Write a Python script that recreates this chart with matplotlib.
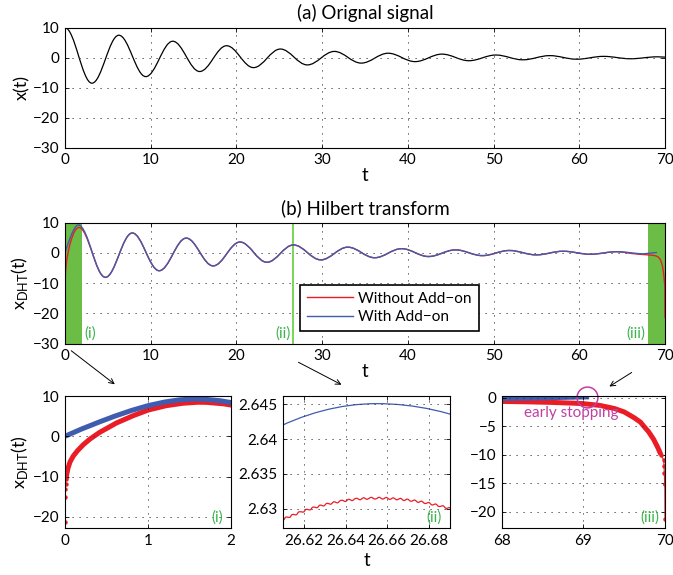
import numpy as np
import matplotlib
matplotlib.use('Agg')
from matplotlib import pyplot as plt
from matplotlib.path import Path
from matplotlib.patches import PathPatch, FancyArrowPatch
from matplotlib.lines import Line2D

plt.rcParams['font.family'] = ['Lato', 'DejaVu Sans']
plt.rc('axes', linewidth=0.8)

# ---- data ----
# (a) original signal: extrema (t, value)
x_ext_t = [0, 3.14, 6.28, 9.42, 12.57, 15.71, 18.85, 21.99, 25.13, 28.27, 31.42, 34.56,
           37.70, 40.84, 43.98, 47.12, 50.27, 53.41, 56.55, 59.69, 62.83, 65.97, 69.12, 70]
x_ext_v = [10, -8.5, 7.5, -6.3, 5.5, -4.6, 4.0, -3.3, 2.9, -2.4, 2.1, -1.8,
           1.5, -1.3, 1.2, -1.0, 0.9, -0.7, 0.7, -0.5, 0.45, -0.35, 0.3, 0.2]

# (b) Hilbert transform, with add-on (blue)
blue_head_t = [0, 0.2, 0.42, 0.6, 0.8, 1.0, 1.2, 1.38]
blue_head_v = [0, 1.8, 3.6, 5.0, 6.4, 7.6, 8.5, 9.05]
blue_ext_t = [1.55, 4.71, 7.85, 10.99, 14.14, 17.28, 20.42, 23.56, 26.655, 29.85, 32.99,
              36.13, 39.27, 42.41, 45.55, 48.69, 51.84, 54.98, 58.12, 61.26, 64.40, 67.54]
blue_ext_v = [9.25, -8.1, 6.6, -5.9, 4.9, -4.3, 3.6, -3.1, 2.6451, -2.3, 1.9,
              -1.6, 1.4, -1.2, 1.0, -0.9, 0.8, -0.65, 0.55, -0.45, 0.4, -0.3]
blue_tail_t = [68.0, 68.5, 69.07]
blue_tail_v = [-0.15, -0.02, 0.15]

# (b) Hilbert transform, without add-on (red)
red_edge0_t = [0, 0.002, 0.004, 0.006, 0.012]
red_edge0_v = [-21.4, -15.2, -13.2, -11.8, -10.6]
red_head_t = [0.012, 0.02, 0.035, 0.06, 0.1, 0.15, 0.22, 0.3, 0.42, 0.62, 0.82, 1.0, 1.22, 1.42]
red_head_v = [-10.6, -9.5, -8.0, -6.4, -4.9, -3.6, -2.1, -0.7, 1.0, 3.3, 5.1, 6.5, 7.6, 8.2]
red_ext_t = [1.60, 4.71, 7.85, 10.99, 14.14, 17.28, 20.42, 23.56, 26.655, 29.85, 32.99,
             36.13, 39.27, 42.41, 45.55, 48.69, 51.84, 54.98, 58.12, 61.26, 64.40]
red_ext_v = [8.45, -8.1, 6.6, -5.9, 4.9, -4.3, 3.6, -3.1, 2.6315, -2.3, 1.9,
             -1.6, 1.4, -1.2, 1.0, -0.9, 0.8, -0.65, 0.55, -0.45, 0.4]
red_tail_t = [65.2, 66.0, 67.0, 68.0, 68.3, 68.6, 68.9, 69.0, 69.2, 69.38, 69.5, 69.62,
              69.7, 69.74, 69.8, 69.86, 69.91, 69.95]
red_tail_v = [0.2, -0.15, -0.45, -0.65, -0.72, -0.82, -0.97, -1.05, -1.35, -1.9, -2.5, -3.5,
              -4.3, -5.0, -6.0, -7.3, -8.7, -10.0]
red_edge1_t = [69.95, 69.984, 69.988, 69.992, 69.996, 69.998, 70.0]
red_edge1_v = [-10.0, -11.0, -12.0, -13.2, -15.2, -15.2, -21.4]

zoom_spans = [(0, 2), (68, 70)]
zoom_line = 26.655

RED = '#ea1d27'
BLUE = '#3f5cae'
GREEN = '#6cbd45'
LGREEN = '#3cb44a'
MAGENTA = '#c03fa4'


def wave(ext_t, ext_v, head_t=(), head_v=(), tail_t=(), tail_v=()):
    # line through read points, half-cosine-like Bezier between extrema
    verts, codes = [], []
    for t, v in zip(head_t, head_v):
        verts.append((t, v)); codes.append(Path.LINETO)
    verts.append((ext_t[0], ext_v[0])); codes.append(Path.LINETO)
    for t0, v0, t1, v1 in zip(ext_t[:-1], ext_v[:-1], ext_t[1:], ext_v[1:]):
        h = 0.3634 * (t1 - t0)
        verts += [(t0 + h, v0), (t1 - h, v1), (t1, v1)]
        codes += [Path.CURVE4] * 3
    for t, v in zip(tail_t, tail_v):
        verts.append((t, v)); codes.append(Path.LINETO)
    codes[0] = Path.MOVETO
    return Path(verts, codes)


def red_path():
    return wave(red_ext_t, red_ext_v, red_head_t, red_head_v, red_tail_t, red_tail_v)


def blue_path():
    return wave(blue_ext_t, blue_ext_v, blue_head_t, blue_head_v, blue_tail_t, blue_tail_v)


def style(ax):
    ax.tick_params(direction='in', top=True, right=True, length=3, width=0.6,
                   labelsize=11, pad=4)
    ax.grid(True, color='#333333', lw=0.7, ls=(0, (1.2, 6)))


W, H = 673, 575
fig = plt.figure(figsize=(W / 100, H / 100), dpi=100)

# ---- (a) ----
ax = fig.add_axes([0.0966, 0.7431, 0.8915, 0.2087])
ax.add_patch(PathPatch(wave(x_ext_t, x_ext_v), fill=False, ec='k', lw=0.9))
ax.set_xlim(0, 70)
ax.set_ylim(-30, 10)
ax.set_xticks(range(0, 71, 10))
ax.set_yticks(range(-30, 11, 10))
style(ax)
ax.set_title('(a) Orignal signal', fontsize=13.5, pad=6)
ax.set_xlabel('t', fontsize=13.5, labelpad=0)
ax.set_ylabel('x(t)', fontsize=13, labelpad=2)

# ---- (b) ----
ax = fig.add_axes([0.0966, 0.4026, 0.8915, 0.2101])
for a, b in zoom_spans:
    ax.axvspan(a, b, color=GREEN, lw=0, zorder=1.6)
ax.axvline(zoom_line, color='#5fcf3a', lw=1.2, zorder=1.6)
ax.add_patch(PathPatch(red_path(), fill=False, ec=RED, lw=1.0, zorder=2))
ax.plot(red_edge0_t, red_edge0_v, color=RED, lw=1.0, zorder=2)
ax.plot(red_edge1_t, red_edge1_v, color=RED, lw=1.0, zorder=2)
ax.add_patch(PathPatch(blue_path(), fill=False, ec=BLUE, lw=1.0, zorder=2.1))
ax.set_xlim(0, 70)
ax.set_ylim(-30, 10)
ax.set_xticks(range(0, 71, 10))
ax.set_yticks(range(-30, 11, 10))
style(ax)
ax.set_title('(b) Hilbert transform', fontsize=13.5, pad=6)
ax.set_xlabel('t', fontsize=13.5, labelpad=0)
ax.set_ylabel(r'x$_\mathregular{DHT}$(t)', fontsize=13, labelpad=2)
ax.text(2.3, -26.6, '(i)', color=LGREEN, fontsize=11, ha='left', va='center')
ax.text(26.3, -26.6, '(ii)', color=LGREEN, fontsize=11, ha='right', va='center')
ax.text(67.7, -26.6, '(iii)', color=LGREEN, fontsize=11, ha='right', va='center')
handles = [Line2D([], [], color=RED, lw=1.0), Line2D([], [], color=BLUE, lw=1.0)]
leg = ax.legend(handles, ['Without Add\u2212on', 'With Add\u2212on'], loc='lower left',
                bbox_to_anchor=(0.392, 0.103), fontsize=11, handlelength=3.0,
                handletextpad=0.35, fancybox=False, framealpha=1, edgecolor='k',
                borderaxespad=0, borderpad=0.45, labelspacing=0.3)
leg.get_frame().set_linewidth(1.2)

# ---- (i) ----
ax = fig.add_axes([0.0966, 0.0817, 0.2467, 0.2296])
ax.add_patch(PathPatch(red_path(), fill=False, ec=RED, lw=3.6))
ax.plot(red_edge0_t, red_edge0_v, color=RED, lw=0.8, marker='o', ms=2.2)
ax.add_patch(PathPatch(blue_path(), fill=False, ec=BLUE, lw=3.6))
ax.set_xlim(0, 2)
ax.set_ylim(-22.8, 10)
ax.set_xticks([0, 1, 2])
ax.set_yticks([-20, -10, 0, 10])
style(ax)
ax.set_ylabel(r'x$_\mathregular{DHT}$(t)', fontsize=13, labelpad=2)
ax.text(0.955, 0.083, '(i)', color=LGREEN, fontsize=11, ha='right', va='center',
        transform=ax.transAxes)

# ---- (ii) ----
ax = fig.add_axes([0.4205, 0.0817, 0.2481, 0.2296])
p = PathPatch(red_path(), fill=False, ec=RED, lw=0.9)
p.set_sketch_params(0.9, 7, 1)
ax.add_patch(p)
ax.add_patch(PathPatch(blue_path(), fill=False, ec=BLUE, lw=0.9))
ax.set_xlim(26.61, 26.69)
ax.set_ylim(2.6272, 2.6462)
ax.set_xticks([26.62, 26.64, 26.66, 26.68])
ax.set_yticks([2.63, 2.635, 2.64, 2.645])
ax.set_yticklabels(['2.63', '2.635', '2.64', '2.645'])
style(ax)
ax.set_xlabel('t', fontsize=13.5, labelpad=3)
ax.text(0.952, 0.083, '(ii)', color=LGREEN, fontsize=11, ha='right', va='center',
        transform=ax.transAxes)

# ---- (iii) ----
ax = fig.add_axes([0.7455, 0.0817, 0.2426, 0.2296])
ax.add_patch(PathPatch(red_path(), fill=False, ec=RED, lw=3.6))
ax.plot(red_edge1_t, red_edge1_v, color=RED, lw=0.8, marker='o', ms=2.2)
ax.add_patch(PathPatch(blue_path(), fill=False, ec=BLUE, lw=3.6))
ax.set_xlim(68, 70)
ax.set_ylim(-22.9, 0.3)
ax.set_xticks([68, 69, 70])
ax.set_yticks([-20, -15, -10, -5, 0])
style(ax)
ax.plot(blue_tail_t[-1] - 0.03, blue_tail_v[-1] - 0.1, 'o', ms=15, mfc='none',
        mec=MAGENTA, mew=1.1, clip_on=False)
ax.text(68.85, -2.75, 'early stopping', color=MAGENTA, fontsize=11, ha='center',
        va='center')
ax.text(0.964, 0.083, '(iii)', color=LGREEN, fontsize=11, ha='right', va='center',
        transform=ax.transAxes)

# ---- arrows from (b) to the zooms (pixel layout) ----
arrows = [((69, 349), (117, 386)), ((296, 361), (344, 386)), ((634, 371), (607, 388))]
for (x0, y0), (x1, y1) in arrows:
    fig.add_artist(FancyArrowPatch((x0 / W, 1 - y0 / H), (x1 / W, 1 - y1 / H),
                                   transform=fig.transFigure, arrowstyle='->',
                                   mutation_scale=9, lw=0.7, color='k'))

fig.savefig('out.png', dpi=100)
